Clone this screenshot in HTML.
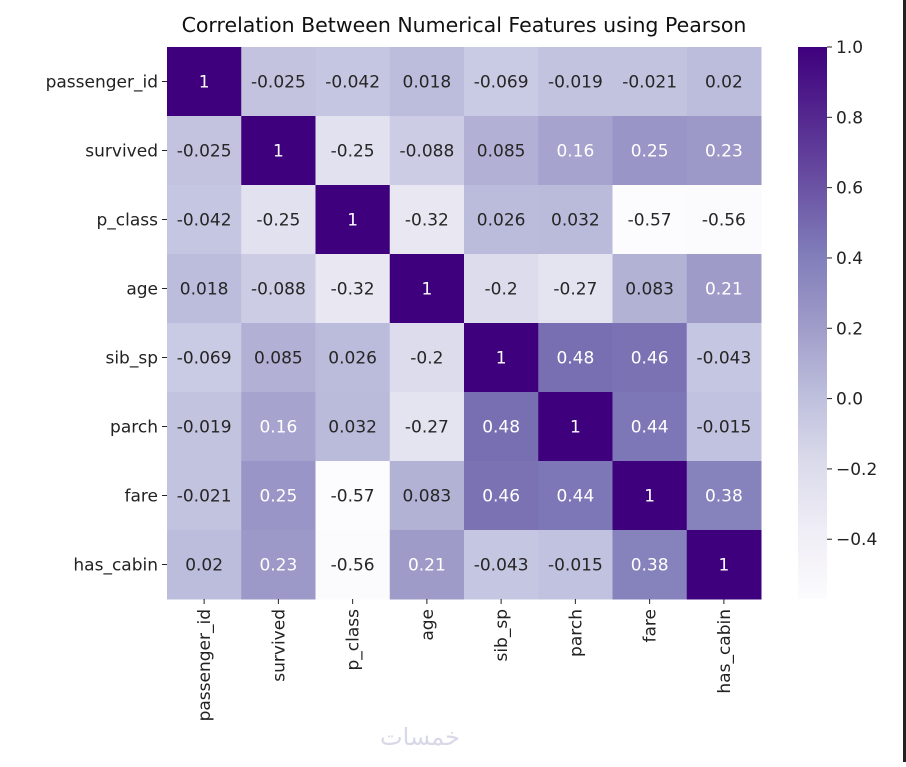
<!DOCTYPE html>
<html><head><meta charset="utf-8"><style>
body{margin:0;background:#fff;width:906px;height:762px;overflow:hidden;font-family:"Liberation Sans","DejaVu Sans",sans-serif}
svg text{font-family:"DejaVu Sans","Liberation Sans",sans-serif}
</style></head><body>
<svg id="c" width="906" height="762">
<rect x="903" y="0" width="3" height="762" fill="#222"/>
<text x="464" y="32" font-size="20.5" text-anchor="middle" fill="#111">Correlation Between Numerical Features using Pearson</text>
<defs><linearGradient id="g" x1="0" y1="1" x2="0" y2="0"></linearGradient></defs>
<text x="420" y="745" font-size="24" fill="#d8d8e8" text-anchor="middle" font-family="DejaVu Sans">خمسات</text>
</svg>
<script>
const labels=["passenger_id","survived","p_class","age","sib_sp","parch","fare","has_cabin"];
const r0=[1,-0.025,-0.042,0.018,-0.069,-0.019,-0.021,0.02];
const r1=[-0.025,1,-0.25,-0.088,0.085,0.16,0.25,0.23];
const r2=[-0.042,-0.25,1,-0.32,0.026,0.032,-0.57,-0.56];
const r3=[0.018,-0.088,-0.32,1,-0.2,-0.27,0.083,0.21];
const r4=[-0.069,0.085,0.026,-0.2,1,0.48,0.46,-0.043];
const r5=[-0.019,0.16,0.032,-0.27,0.48,1,0.44,-0.015];
const r6=[-0.021,0.25,-0.57,0.083,0.46,0.44,1,0.38];
const r7=[0.02,0.23,-0.56,0.21,-0.043,-0.015,0.38,1];
const rows=[r0,r1,r2,r3,r4,r5,r6,r7];
const cbTicks=[1.0,0.8,0.6,0.4,0.2,0.0,-0.2,-0.4];
const vmin=-0.57,vmax=1.0;
const stops=["#fcfbfd","#efedf5","#dadaeb","#bcbddc","#9e9ac8","#807dba","#6a51a3","#54278f","#3f007d"];
function hex(h){return [1,3,5].map(i=>parseInt(h.substr(i,2),16));}
function cmap(v){let t=Math.max(0,Math.min(1,(v-vmin)/(vmax-vmin)))*(stops.length-1);let i=Math.min(Math.floor(t),stops.length-2),f=t-i;const a=hex(stops[i]),b=hex(stops[i+1]);return a.map((x,k)=>Math.round(x+(b[k]-x)*f));}
function relLum(c){const l=c.map(x=>{x/=255;return x<=0.03928?x/12.92:Math.pow((x+0.055)/1.055,2.4);});return 0.2126*l[0]+0.7152*l[1]+0.0722*l[2];}
const L=167,T=47,W=594,H=552,n=labels.length,cw=W/n,ch=H/n;
const xs=i=>L+i*cw, ys=i=>T+i*ch;
const svg=document.getElementById('c'),NS="http://www.w3.org/2000/svg";
function mk(tag,at,txt){const e=document.createElementNS(NS,tag);for(const k in at)e.setAttribute(k,at[k]);if(txt!==undefined)e.textContent=txt;svg.appendChild(e);return e;}
rows.forEach((row,i)=>row.forEach((v,j)=>{
 const c=cmap(v);
 const r=mk('rect',{x:xs(j),y:ys(i),width:cw+0.5,height:ch+0.5,fill:`rgb(${c})`});
 
 
 const t=mk('text',{x:xs(j)+cw/2,y:ys(i)+ch/2+6,'font-size':17,'text-anchor':'middle',fill:relLum(c)<0.408?'#fff':'#262626'},String(v));
 
 
}));
labels.forEach((lb,i)=>{
 mk('line',{x1:L-5,x2:L,y1:ys(i)+ch/2,y2:ys(i)+ch/2,stroke:'#222'});
 const t=mk('text',{x:L-9,y:ys(i)+ch/2+6,'font-size':17,'text-anchor':'end',fill:'#222'},lb);
 
 
 const x=xs(i)+cw/2;
 mk('line',{x1:x,x2:x,y1:T+H,y2:T+H+5,stroke:'#222'});
 const u=mk('text',{x:0,y:0,'font-size':17,'text-anchor':'end',fill:'#222',transform:`translate(${x+6},${T+H+10}) rotate(-90)`},lb);
 
 
});
const cbx=798,cbw=29;
const g=document.getElementById('g');
stops.forEach((s,i)=>{const st=document.createElementNS(NS,'stop');st.setAttribute('offset',i/(stops.length-1));st.setAttribute('stop-color',s);g.appendChild(st);});
const cb=mk('rect',{x:cbx,y:T,width:cbw,height:H,fill:'url(#g)'});


const cy=v=>T+H*(vmax-v)/(vmax-vmin);
cbTicks.forEach(v=>{
 const y=cy(v);
 mk('line',{x1:cbx+cbw,x2:cbx+cbw+5,y1:y,y2:y,stroke:'#222'});
 const t=mk('text',{x:cbx+cbw+9,y:y+6,'font-size':17,fill:'#222'},(v<0?'\u2212':'')+Math.abs(v).toFixed(1));
 
 
});
</script>
</body></html>
